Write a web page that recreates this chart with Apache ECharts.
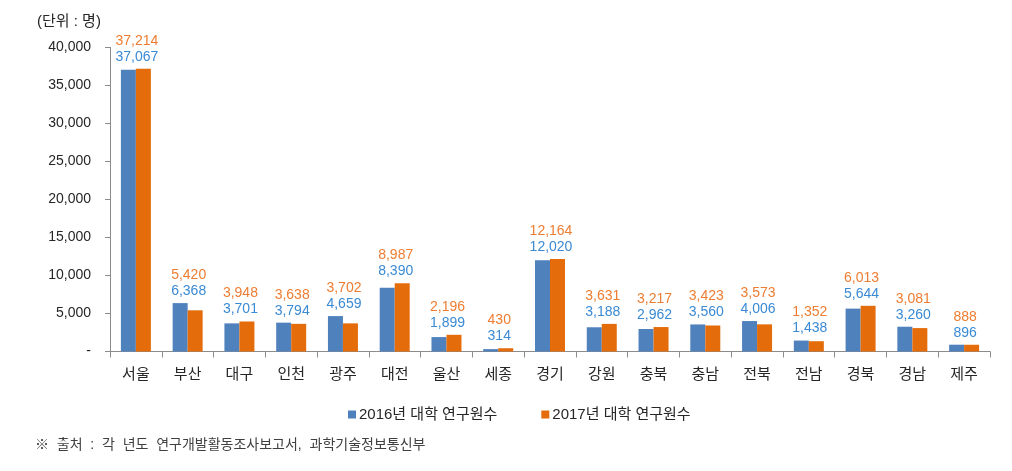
<!DOCTYPE html>
<html>
<head>
<meta charset="utf-8">
<script src="https://cdn.jsdelivr.net/npm/echarts@6/dist/echarts.min.js"></script>
<style>
html,body{margin:0;padding:0;background:#fff;}
#c{width:1012px;height:471px;}
</style>
</head>
<body>
<div id="c"></div>
<script>
const categories = ['서울','부산','대구','인천','광주','대전','울산','세종','경기','강원','충북','충남','전북','전남','경북','경남','제주'];
const s2016 = [37067, 6368, 3701, 3794, 4659, 8390, 1899, 314, 12020, 3188, 2962, 3560, 4006, 1438, 5644, 3260, 896];
const s2017 = [37214, 5420, 3948, 3638, 3702, 8987, 2196, 430, 12164, 3631, 3217, 3423, 3573, 1352, 6013, 3081, 888];
const seriesNames = ['2016년 대학 연구원수', '2017년 대학 연구원수'];
const unitText = '(단위 : 명)';
const sourceText = '※  출처  :  각  년도  연구개발활동조사보고서,  과학기술정보통신부';

const FONT = '"Liberation Sans", Arial, "Noto Sans CJK KR", sans-serif';
const chart = echarts.init(document.getElementById('c'), null, {renderer: 'canvas'});
const fmt = v => v === 0 ? '-' : v.toLocaleString('en-US');

const barW = 15;
const baseOption = {
  animation: false,
  textStyle: {fontFamily: FONT},
  grid: {left: 110, right: 22, top: 47.5, bottom: 119.5, containLabel: false},
  graphic: [
    {type: 'text', left: 37, top: 14, style: {text: unitText, font: '15px ' + FONT, fill: '#262626'}},
    {type: 'text', left: 35, top: 438, style: {text: sourceText, font: '14px ' + FONT, fill: '#404040'}}
  ],
  legend: {
    left: 343, top: 402,
    itemWidth: 8, itemHeight: 8, itemGap: 44,
    icon: 'rect',
    textStyle: {fontSize: 15, color: '#262626', fontFamily: FONT, padding: [0,0,0,-2]},
    data: seriesNames
  },
  xAxis: {
    type: 'category', data: categories,
    axisLine: {lineStyle: {color: '#8c8c8c', width: 1}},
    axisTick: {show: true, length: 6, lineStyle: {color: '#8c8c8c'}},
    axisLabel: {fontSize: 15, color: '#262626', margin: 16, fontFamily: FONT}
  },
  yAxis: {
    type: 'value', min: 0, max: 40000, interval: 5000,
    axisLine: {show: true, lineStyle: {color: '#8c8c8c', width: 1}},
    axisTick: {show: true, length: 5, lineStyle: {color: '#8c8c8c'}},
    splitLine: {show: false},
    axisLabel: {fontSize: 14, color: '#262626', margin: 19, formatter: fmt, fontFamily: FONT}
  },
  series: [
    {name: seriesNames[0], type: 'bar', barWidth: barW, barGap: '0%', data: s2016,
     itemStyle: {color: '#4F81BD'}},
    {name: seriesNames[1], type: 'bar', barWidth: barW, barGap: '0%', data: s2017,
     itemStyle: {color: '#E46C0A'}}
  ]
};
chart.setOption(baseOption);

const py = v => chart.convertToPixel({yAxisIndex: 0}, v);
const mkData = (arr, isBlue) => arr.map((v, i) => {
  const m = Math.max(s2016[i], s2017[i]);
  const dy = py(m) - py(v);
  return {
    value: v,
    label: {
      show: true, position: 'top', distance: 5,
      offset: isBlue ? [barW/2 + 1, dy] : [-barW/2 + 1, dy - 16],
      formatter: p => fmt(p.value),
      fontSize: 14, fontFamily: FONT,
      color: isBlue ? '#3A8AD4' : '#EE7D31'
    }
  };
});
chart.setOption({
  series: [
    {name: seriesNames[0], data: mkData(s2016, true)},
    {name: seriesNames[1], data: mkData(s2017, false)}
  ]
});
</script>
</body>
</html>
